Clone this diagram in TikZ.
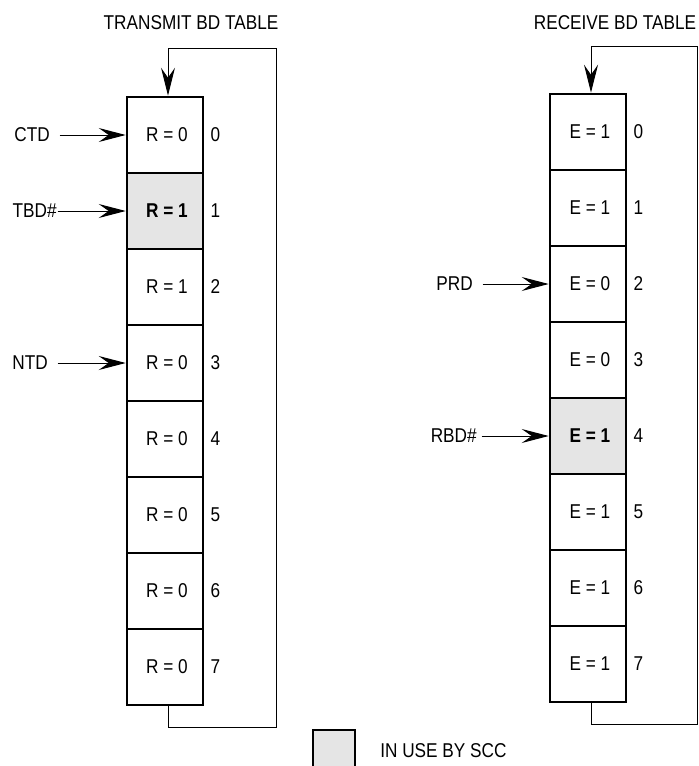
\documentclass[tikz,border=0pt]{standalone}
\usepackage{fontspec}
\setmainfont{Liberation Sans}[FakeStretch=0.86]
\usetikzlibrary{arrows.meta,positioning}

\begin{document}
\begin{tikzpicture}[
    x=1pt, y=-1pt,
    every node/.style={font=\fontsize{20}{22}\selectfont},
    cell/.style={draw, line width=2.6pt, minimum width=76pt, minimum height=76pt, inner sep=0pt},
    busy/.style={cell, fill=gray!20, font=\fontsize{20}{22}\selectfont\bfseries},
    idx/.style={inner sep=0pt},
    lbl/.style={inner sep=0pt, outer sep=0pt},
    ptr/.style={draw, -{Stealth[length=27pt, width=14pt, inset=10pt]}, line width=1pt},
    ring/.style={draw, line width=1pt}
]
    \useasboundingbox (0,0) rectangle (699,766);
    % transmit table
    \node (ttitle) at (191,23) {TRANSMIT BD TABLE};
    \foreach \i/\s/\v in {0/cell/0,1/busy/1,2/cell/1,3/cell/0,4/cell/0,5/cell/0,6/cell/0,7/cell/0}
    {
        \node[\s] (t\i) at (165,135+76*\i) {\hspace{4pt}R = \v};
        \node[idx, right=6pt of t\i] (tn\i) {\i};
    }
    \node[lbl, left=76pt of t0] (ctd) {CTD};
    \node[lbl, left=69pt of t1] (tbd) {TBD\#};
    \node[lbl, left=78pt of t3] (ntd) {NTD};
    \draw[ptr] ([xshift=10pt]ctd.east) -- (t0.west);
    \draw[ptr] ([xshift=1pt]tbd.east) -- (t1.west);
    \draw[ptr] ([xshift=10pt]ntd.east) -- (t3.west);
    \draw[ring, -{Stealth[length=28pt, width=14pt, inset=10pt]}]
        ([xshift=3pt]t7.south) -- ++(0,21) -| (276,48) -| ([xshift=3pt]t0.north);

    % receive table
    \node (rtitle) at (615,23) {RECEIVE BD TABLE};
    \foreach \i/\s/\v in {0/cell/1,1/cell/1,2/cell/0,3/cell/0,4/busy/1,5/cell/1,6/cell/1,7/cell/1}
    {
        \node[\s] (r\i) at (588,132+76*\i) {\hspace{4pt}E = \v};
        \node[idx, right=6pt of r\i] (rn\i) {\i};
    }
    \node[lbl, left=76pt of r2] (prd) {PRD};
    \node[lbl, left=72pt of r4] (rbd) {RBD\#};
    \draw[ptr] ([xshift=10pt]prd.east) -- (r2.west);
    \draw[ptr] ([xshift=5pt]rbd.east) -- (r4.west);
    \draw[ring, -{Stealth[length=28pt, width=14pt, inset=10pt]}]
        ([xshift=3pt]r7.south) -- ++(0,21) -| (697,46) -| ([xshift=3pt]r0.north);

    % legend
    \node[busy, minimum width=42pt, minimum height=42pt] (key) at (334,751) {};
    \node[lbl, right=24pt of key] (keytext) {IN USE BY SCC};
\end{tikzpicture}
\end{document}
